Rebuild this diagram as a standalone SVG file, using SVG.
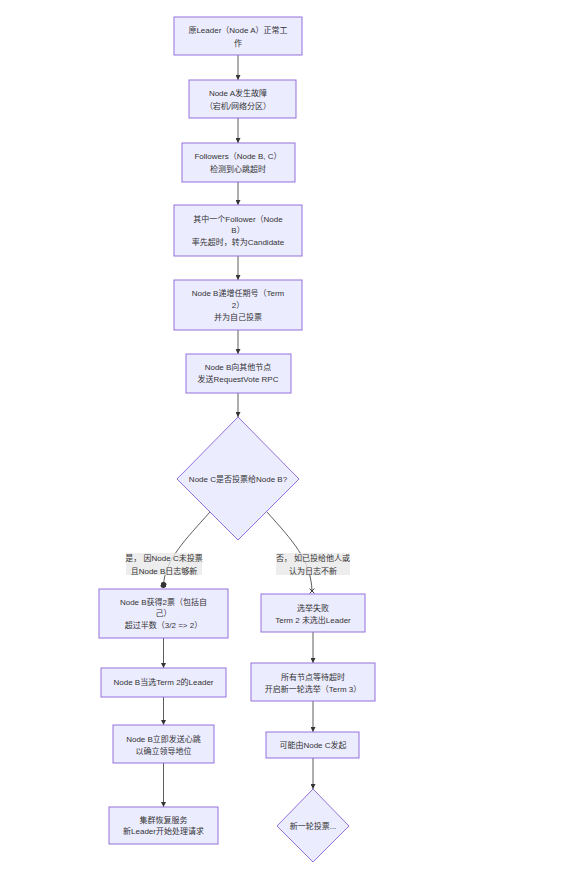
<svg xmlns="http://www.w3.org/2000/svg" width="572" height="874" viewBox="0 0 572 874">
<style>
.n{fill:#ECECFF;stroke:#9370DB;stroke-width:1}
.t{font-family:"Liberation Sans","Noto Sans CJK SC",sans-serif;font-size:8px;fill:#333;text-anchor:middle;dominant-baseline:central}
.e{fill:none;stroke:#333;stroke-width:0.8}
.lb{fill:#e8e8e8;fill-opacity:0.8}
</style>
<defs>
<marker id="arr" viewBox="0 0 10 10" refX="10" refY="5" markerWidth="5" markerHeight="5" orient="auto" markerUnits="userSpaceOnUse"><path d="M0,0L10,5L0,10z" fill="#333"/></marker>
<marker id="dot" viewBox="0 0 10 10" refX="5" refY="5" markerWidth="6" markerHeight="6" orient="auto" markerUnits="userSpaceOnUse"><circle cx="5" cy="5" r="5" fill="#333"/></marker>
<marker id="cross" viewBox="0 0 10 10" refX="5" refY="5" markerWidth="6" markerHeight="6" orient="auto" markerUnits="userSpaceOnUse"><path d="M1,1L9,9M9,1L1,9" stroke="#333" stroke-width="1.6"/></marker>
</defs>
<rect width="572" height="874" fill="#fff"/>
<g id="edges">
<path class="e" d="M238,55V80" marker-end="url(#arr)"/>
<path class="e" d="M238,118V143" marker-end="url(#arr)"/>
<path class="e" d="M238,182V205" marker-end="url(#arr)"/>
<path class="e" d="M238,256V280" marker-end="url(#arr)"/>
<path class="e" d="M238,330V354" marker-end="url(#arr)"/>
<path class="e" d="M238,393V417" marker-end="url(#arr)"/>
<path class="e" d="M210,512C185,540 165,560 163.5,585" marker-end="url(#dot)"/>
<path class="e" d="M267,512C292,540 311,560 312,591" marker-end="url(#cross)"/>
<path class="e" d="M163.5,638V668" marker-end="url(#arr)"/>
<path class="e" d="M163.5,697V725" marker-end="url(#arr)"/>
<path class="e" d="M163.5,763V807" marker-end="url(#arr)"/>
<path class="e" d="M313,632V663" marker-end="url(#arr)"/>
<path class="e" d="M313,701V732" marker-end="url(#arr)"/>
<path class="e" d="M313,758V789" marker-end="url(#arr)"/>
<rect class="lb" x="126" y="553" width="76" height="22"/>
<text class="t" x="164" y="558">是， 因Node C未投票</text>
<text class="t" x="164" y="571">且Node B日志够新</text>
<rect class="lb" x="276" y="553" width="74" height="22"/>
<text class="t" x="313" y="558">否， 如已投给他人或</text>
<text class="t" x="313" y="571">认为日志不新</text>
</g>
<g id="n1"><rect class="n" x="174" y="17" width="128" height="38"/><text class="t" x="238" y="30">原Leader（Node A）正常工</text><text class="t" x="238" y="43">作</text></g>
<g id="n2"><rect class="n" x="189" y="80" width="107" height="38"/><text class="t" x="238" y="93">Node A发生故障</text><text class="t" x="238" y="106">（宕机/网络分区）</text></g>
<g id="n3"><rect class="n" x="182" y="143" width="113" height="39"/><text class="t" x="238" y="156">Followers（Node B, C）</text><text class="t" x="238" y="169">检测到心跳超时</text></g>
<g id="n4"><rect class="n" x="174" y="205" width="128" height="51"/><text class="t" x="238" y="219">其中一个Follower（Node</text><text class="t" x="238" y="230">B）</text><text class="t" x="238" y="242">率先超时，转为Candidate</text></g>
<g id="n5"><rect class="n" x="174" y="280" width="128" height="50"/><text class="t" x="238" y="293">Node B递增任期号（Term</text><text class="t" x="238" y="305">2）</text><text class="t" x="238" y="317">并为自己投票</text></g>
<g id="n6"><rect class="n" x="186" y="354" width="105" height="39"/><text class="t" x="238" y="367">Node B向其他节点</text><text class="t" x="238" y="379">发送RequestVote RPC</text></g>
<g id="d1"><path class="n" d="M238,417L299,479L238,540L177,479z"/><text class="t" x="238" y="479">Node C是否投票给Node B?</text></g>
<g id="n7"><rect class="n" x="99" y="589" width="129" height="49"/><text class="t" x="163.5" y="602">Node B获得2票（包括自</text><text class="t" x="163.5" y="613">己）</text><text class="t" x="163.5" y="625">超过半数（3/2 =&gt; 2）</text></g>
<g id="n8"><rect class="n" x="101" y="668" width="125" height="29"/><text class="t" x="163.5" y="682">Node B当选Term 2的Leader</text></g>
<g id="n9"><rect class="n" x="113" y="725" width="101" height="38"/><text class="t" x="163.5" y="739">Node B立即发送心跳</text><text class="t" x="163.5" y="751">以确立领导地位</text></g>
<g id="n10"><rect class="n" x="109" y="807" width="109" height="37"/><text class="t" x="163.5" y="820">集群恢复服务</text><text class="t" x="163.5" y="831">新Leader开始处理请求</text></g>
<g id="n11"><rect class="n" x="261" y="594" width="104" height="38"/><text class="t" x="313" y="608">选举失败</text><text class="t" x="313" y="620">Term 2 未选出Leader</text></g>
<g id="n12"><rect class="n" x="251" y="663" width="124" height="38"/><text class="t" x="313" y="677">所有节点等待超时</text><text class="t" x="313" y="689">开启新一轮选举（Term 3）</text></g>
<g id="n13"><rect class="n" x="266" y="732" width="93" height="26"/><text class="t" x="313" y="745">可能由Node C发起</text></g>
<g id="d2"><path class="n" d="M313,789L349,826L313,862L277,826z"/><text class="t" x="313" y="826">新一轮投票...</text></g>
</svg>
